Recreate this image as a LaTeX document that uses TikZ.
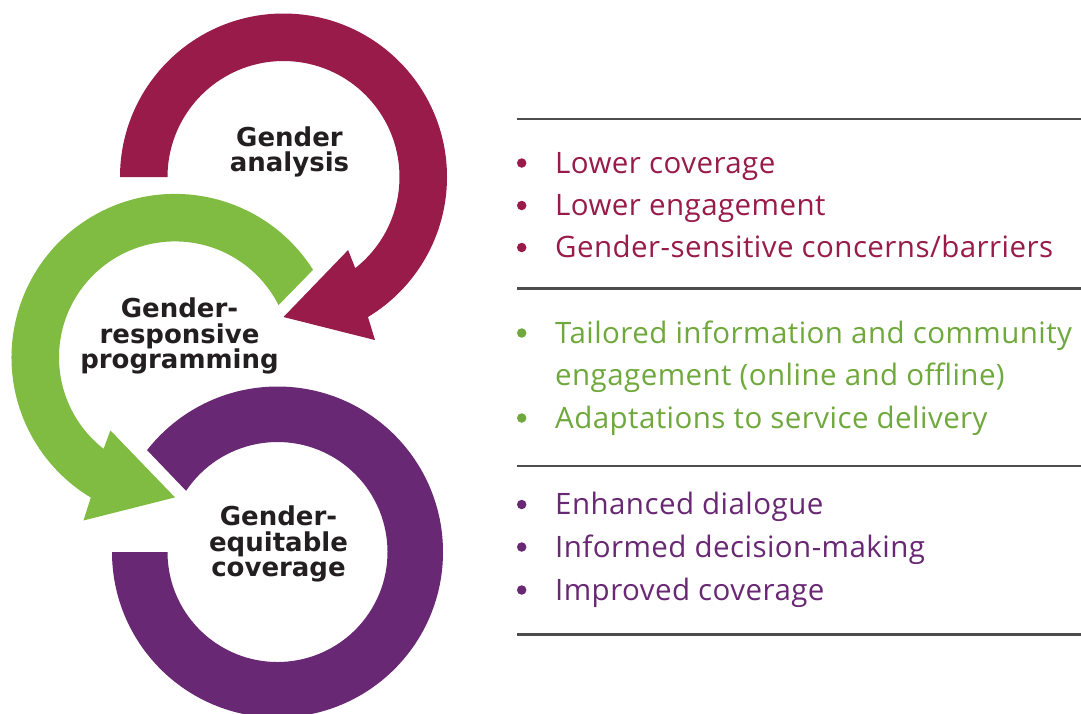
\documentclass[tikz,border=0pt]{standalone}
\usepackage{fontspec}
\setmainfont{Open Sans}
\newfontfamily\listfont{Open Sans}[LetterSpace=1.5]
\newfontfamily\labelfont{DejaVu Sans}
\usetikzlibrary{calc}
\definecolor{maroonc}{HTML}{981B4A}
\definecolor{greenc}{HTML}{80BC41}
\definecolor{greentext}{HTML}{6FA83C}
\definecolor{purplec}{HTML}{692873}
\definecolor{darktext}{HTML}{231F20}
\definecolor{rulec}{HTML}{4D4D4D}
\begin{document}
\begin{tikzpicture}[x=1pt,y=1pt,
  sep/.style={draw=rulec, line width=2.5pt},
  item/.style={anchor=base west, inner sep=0pt, font=\listfont\fontsize{29.5}{42.5}\selectfont, align=left},
  bullet/.style={circle, inner sep=0pt, minimum size=9.5pt, draw=none},
  cyclelabel/.style={align=center, inner sep=0pt, text=darktext, font=\labelfont\bfseries\fontsize{26}{25.5}\selectfont}
]
\useasboundingbox (0,0) rectangle (1081,-713);
\clip (0,0) rectangle (1081,-713);

% Gender analysis arrow (maroon)
\begin{scope}[shift={(283.5,-177)}]
\fill[maroonc] (180:163.5pt) arc[start angle=180, end angle=-58.9, radius=163.5pt]
  -- (-60.7:187pt) -- (-90:140pt) -- (-48.5:97.5pt) -- (-51.8:116pt)
  arc[start angle=-51.8, end angle=180, radius=116pt] -- cycle;
\end{scope}

% Gender-responsive programming arrow (green)
\begin{scope}[shift={(175,-357.4)}]
\fill[greenc] (32.4:163.5pt) arc[start angle=32.4, end angle=239, radius=163.5pt]
  -- (240.7:187pt) -- (270:140pt) -- (228.5:97.5pt) -- (232:116pt)
  arc[start angle=232, end angle=26.8, radius=116pt] -- cycle;
\end{scope}

% Gender-equitable coverage ring (purple)
\begin{scope}[shift={(277.5,-552)}]
\fill[purplec] (180:165.5pt) arc[start angle=180, end angle=502, radius=165.5pt]
  -- (506.2:110pt) arc[start angle=506.2, end angle=180, radius=110pt] -- cycle;
\end{scope}

% cycle labels
\node[cyclelabel] (ga) at (289.5,-152) {Gender\\analysis};
\node[cyclelabel] (grp) at (179.5,-336) {Gender-\\responsive\\programming};
\node[cyclelabel] (gec) at (278.5,-544) {Gender-\\equitable\\coverage};

% separator rules
\coordinate (r1a) at (517,-119);   \coordinate (r1b) at (1081,-119);
\coordinate (r2a) at (517,-288.5); \coordinate (r2b) at (1081,-288.5);
\coordinate (r3a) at (517,-466);   \coordinate (r3b) at (1081,-466);
\coordinate (r4a) at (517,-634.5); \coordinate (r4b) at (1081,-634.5);
\draw[sep] (r1a) -- (r1b);
\draw[sep] (r2a) -- (r2b);
\draw[sep] (r3a) -- (r3b);
\draw[sep] (r4a) -- (r4b);

% list: gender analysis
\node[bullet, fill=maroonc] (b1) at (521.7,-163) {};
\node[item, text=maroonc] (t1) at (555,-173) {Lower coverage};
\node[bullet, fill=maroonc] (b2) at (521.7,-205.5) {};
\node[item, text=maroonc] (t2) at (555,-215.5) {Lower engagement};
\node[bullet, fill=maroonc] (b3) at (521.7,-247.5) {};
\node[item, text=maroonc] (t3) at (555,-257.5) {Gender-sensitive concerns/barriers};

% list: responsive programming
\node[bullet, fill=greentext] (b4) at (521.7,-333) {};
\node[item, text=greentext] (t4) at (555,-385.5) {Tailored information and community\\engagement (online and offline)};
\node[bullet, fill=greentext] (b5) at (521.7,-418) {};
\node[item, text=greentext] (t5) at (555,-428) {Adaptations to service delivery};

% list: equitable coverage
\node[bullet, fill=purplec] (b6) at (521.7,-504.5) {};
\node[item, text=purplec] (t6) at (555,-514.5) {Enhanced dialogue};
\node[bullet, fill=purplec] (b7) at (521.7,-547) {};
\node[item, text=purplec] (t7) at (555,-557) {Informed decision-making};
\node[bullet, fill=purplec] (b8) at (521.7,-590) {};
\node[item, text=purplec] (t8) at (555,-600) {Improved coverage};
\end{tikzpicture}
\end{document}
